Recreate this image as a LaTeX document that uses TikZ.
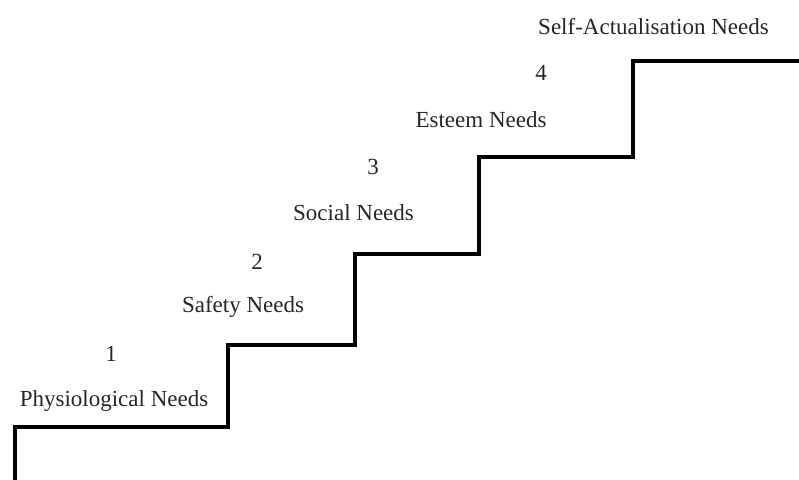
\documentclass[tikz,border=0pt]{standalone}
\usepackage{fontspec}
\setmainfont{Liberation Serif}
\begin{document}
\begin{tikzpicture}[x=1pt,y=-1pt,
  lbl/.style={text=black!85, font=\fontsize{23}{25}\selectfont, inner sep=0pt, anchor=center},
  stair/.style={line width=3.2pt, line join=miter, black}]
\useasboundingbox (0,0) rectangle (799,479);
\coordinate (s0) at (15,481);
\coordinate (s1) at (15,427);
\coordinate (s2) at (228,427);
\coordinate (s3) at (228,345);
\coordinate (s4) at (355,345);
\coordinate (s5) at (355,254);
\coordinate (s6) at (479,254);
\coordinate (s7) at (479,157);
\coordinate (s8) at (633,157);
\coordinate (s9) at (633,61);
\coordinate (s10) at (801,61);
\draw[stair] (s0) -- (s1) -- (s2) -- (s3) -- (s4) -- (s5) -- (s6) -- (s7) -- (s8) -- (s9) -- (s10);
\node[lbl] (n1) at (111,354) {1};
\node[lbl] (p1) at (114,401) {Physiological Needs};
\node[lbl] (n2) at (257,262) {2};
\node[lbl] (p2) at (243,307) {Safety Needs};
\node[lbl] (n3) at (373,167) {3};
\node[lbl] (p3) at (353.5,213) {Social Needs};
\node[lbl] (n4) at (541,73) {4};
\node[lbl] (p4) at (481,120) {Esteem Needs};
\node[lbl] (p5) at (653.5,27) {Self-Actualisation Needs};
\end{tikzpicture}
\end{document}
